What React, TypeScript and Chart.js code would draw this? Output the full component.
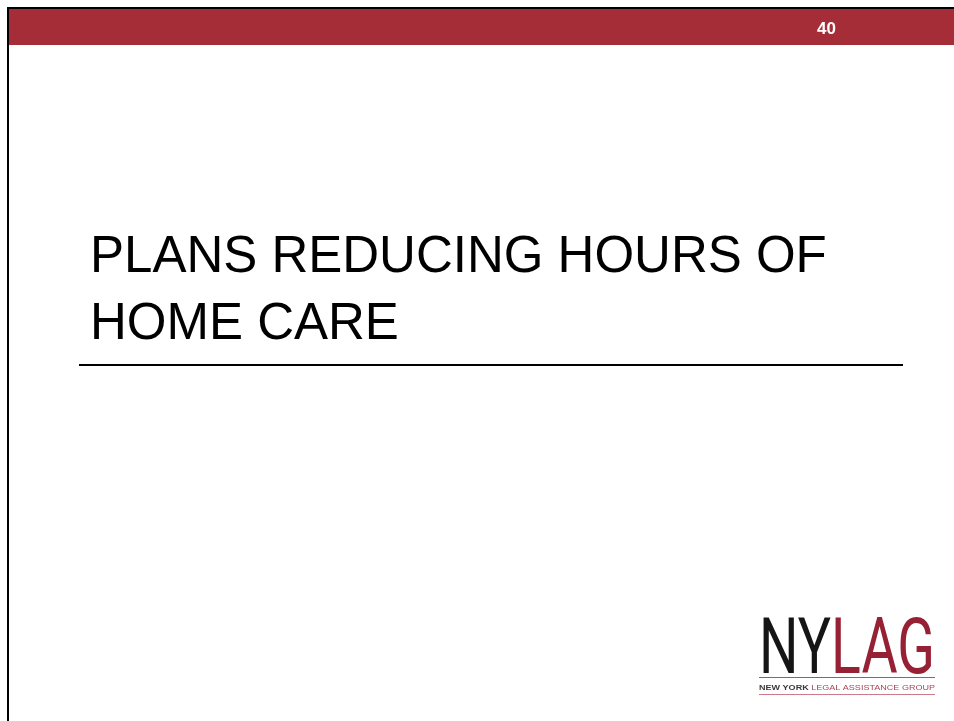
import React, { useEffect, useRef } from "react";
import { Chart, registerables } from "chart.js";

Chart.register(...registerables);

const titleLines: string[] = ["PLANS REDUCING HOURS OF", "HOME CARE"];
const slideNumber: string[] = ["40"];
const logoParts: string[] = ["NY", "LAG"];
const logoTagline: string[] = ["NEW YORK", "LEGAL ASSISTANCE GROUP"];

const RED = "rgb(165,45,55)";
const LOGO_RED = "rgb(150,32,52)";

const slidePlugin = {
  id: "slideDecor",
  beforeDraw(chart: any) {
    const ctx = chart.ctx as CanvasRenderingContext2D;
    const W = chart.width;
    const H = chart.height;
    ctx.save();
    ctx.fillStyle = "#ffffff";
    ctx.fillRect(0, 0, W, H);
    ctx.fillStyle = RED;
    ctx.fillRect(9, 9, W - 9, 36);
    ctx.fillStyle = "#000000";
    ctx.fillRect(7, 7, W - 7, 2);
    ctx.fillRect(7, 7, 2, H - 7);
    ctx.restore();
  },
  afterDraw(chart: any) {
    const ctx = chart.ctx as CanvasRenderingContext2D;
    ctx.save();
    ctx.fillStyle = "#ffffff";
    ctx.font = "bold 17px 'Liberation Sans', Arial, sans-serif";
    ctx.textBaseline = "alphabetic";
    ctx.textAlign = "left";
    ctx.fillText(slideNumber[0], 817, 34);

    ctx.fillStyle = "#000000";
    ctx.fillRect(79, 364, 824, 2);

    const logoLeft = 759;
    const logoRight = 935;
    const base = 673;
    ctx.font = "400 78px Roboto, 'Liberation Sans', sans-serif";
    const wNY = ctx.measureText(logoParts[0]).width;
    const wLAG = ctx.measureText(logoParts[1]).width;
    const sx = (logoRight - logoLeft) / (wNY + wLAG);
    ctx.save();
    ctx.translate(logoLeft, base);
    ctx.scale(sx, 1);
    ctx.fillStyle = "#151515";
    ctx.fillText(logoParts[0], 0, 0);
    ctx.fillStyle = LOGO_RED;
    ctx.fillText(logoParts[1], wNY, 0);
    ctx.restore();

    ctx.fillStyle = "rgba(90,70,75,0.8)";
    ctx.fillRect(759, 677, 176, 1);
    ctx.fillStyle = "rgba(190,90,110,0.8)";
    ctx.fillRect(759, 694, 176, 1);

    ctx.font = "bold 7px 'Liberation Sans', sans-serif";
    const t1 = logoTagline[0];
    const t2 = logoTagline[1];
    const w1 = ctx.measureText(t1 + " ").width;
    ctx.font = "7px 'Liberation Sans', sans-serif";
    const w2 = ctx.measureText(t2).width;
    const sx2 = 176 / (w1 + w2);
    ctx.save();
    ctx.translate(759, 690);
    ctx.scale(sx2, 1);
    ctx.font = "bold 7px 'Liberation Sans', sans-serif";
    ctx.fillStyle = "#3a3a3a";
    ctx.fillText(t1, 0, 0);
    ctx.font = "7px 'Liberation Sans', sans-serif";
    ctx.fillStyle = "rgb(170,70,90)";
    ctx.fillText(t2, w1, 0);
    ctx.restore();

    ctx.restore();
  },
};

export default function App() {
  const ref = useRef<HTMLCanvasElement | null>(null);
  useEffect(() => {
    if (!ref.current) return;
    const chart = new Chart(ref.current, {
      type: "scatter",
      data: { datasets: [] },
      options: {
        animation: false,
        responsive: false,
        maintainAspectRatio: false,
        layout: { padding: { left: 90, top: 0, right: 0, bottom: 0 } },
        scales: { x: { display: false }, y: { display: false } },
        plugins: {
          legend: { display: false },
          tooltip: { enabled: false },
          title: {
            display: true,
            text: titleLines,
            align: "start",
            color: "#000000",
            font: { family: "'Liberation Sans', Arial, sans-serif", size: 51, weight: "normal", lineHeight: 1.3 },
            padding: { top: 225, bottom: 0 },
          },
        },
      },
      plugins: [slidePlugin],
    });
    return () => chart.destroy();
  }, []);
  return (
    <div style={{ position: "absolute", left: 0, top: 0, width: 954, height: 721, background: "#fff" }}>
      <canvas ref={ref} width={954} height={721} style={{ width: 954, height: 721, display: "block" }} />
    </div>
  );
}
